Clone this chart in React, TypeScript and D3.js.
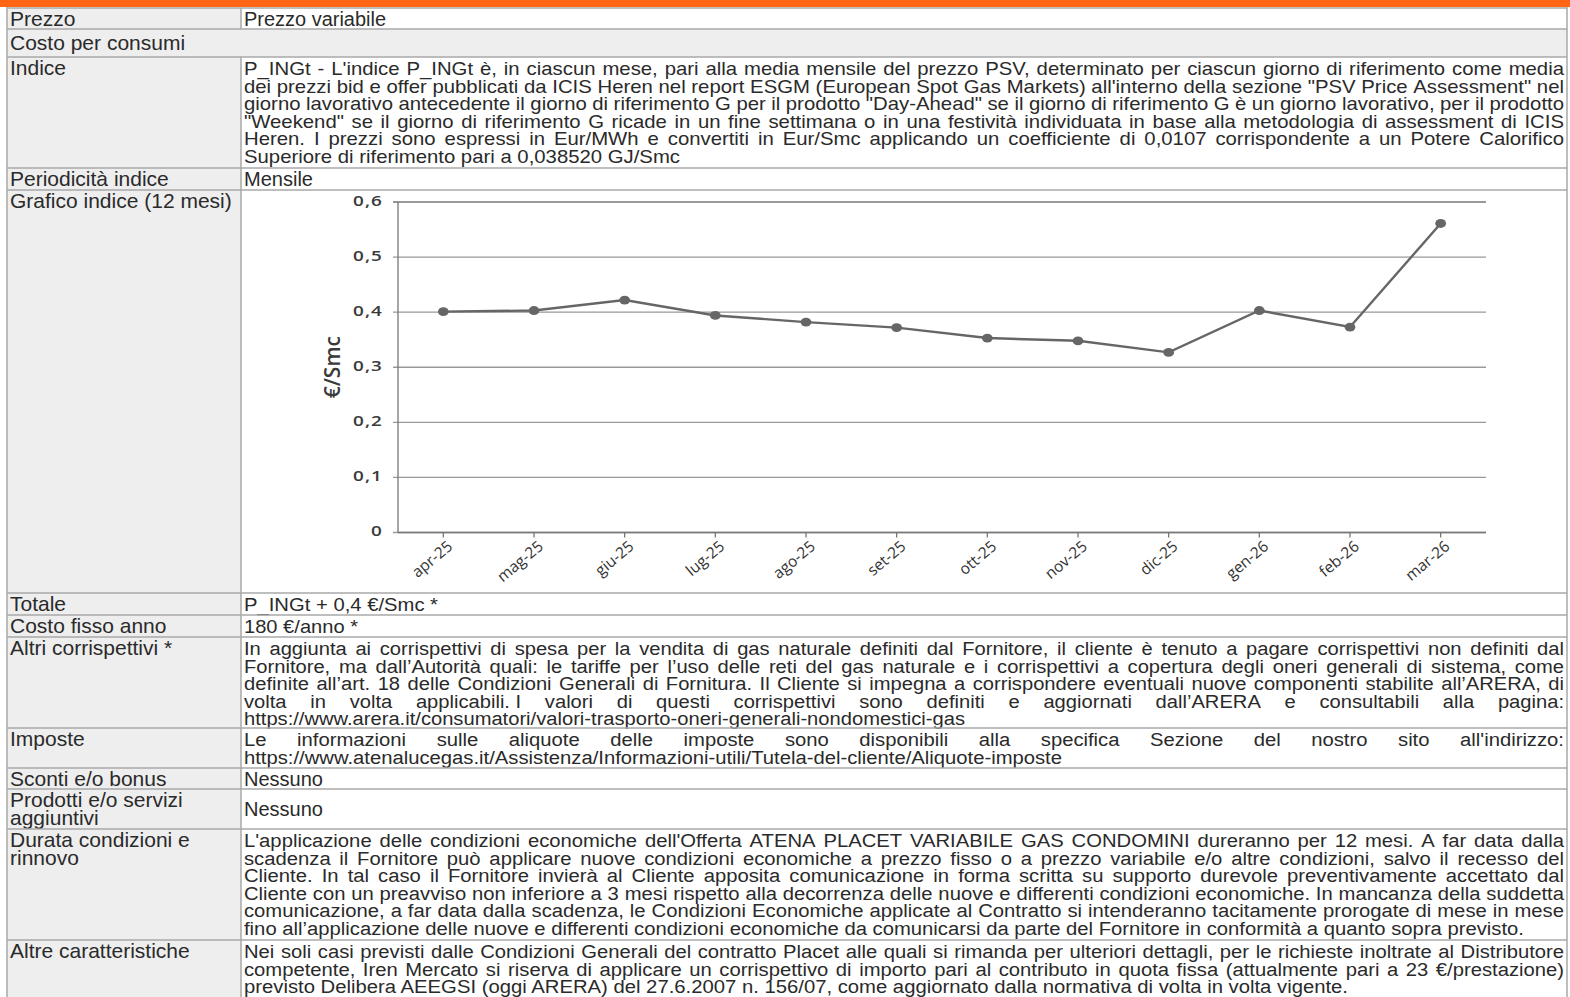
import React from 'react';
import * as d3 from 'd3';

// ---------- chart data ----------
const months = ['apr-25', 'mag-25', 'giu-25', 'lug-25', 'ago-25', 'set-25', 'ott-25', 'nov-25', 'dic-25', 'gen-26', 'feb-26', 'mar-26'];
const indexValues = [0.401, 0.403, 0.422, 0.394, 0.382, 0.372, 0.353, 0.348, 0.327, 0.403, 0.373, 0.561];
const yTicks = [0, 0.1, 0.2, 0.3, 0.4, 0.5, 0.6];
const yTickLabels = ['0', '0,1', '0,2', '0,3', '0,4', '0,5', '0,6'];
const yAxisTitle = '€/Smc';

// ---------- table text ----------
const rowLabels: string[][] = [
  ['Prezzo'],
  ['Costo per consumi'],
  ['Indice'],
  ['Periodicità indice'],
  ['Grafico indice (12 mesi)'],
  ['Totale'],
  ['Costo fisso anno'],
  ['Altri corrispettivi *'],
  ['Imposte'],
  ['Sconti e/o bonus'],
  ['Prodotti e/o servizi', 'aggiuntivi'],
  ['Durata condizioni e', 'rinnovo'],
  ['Altre caratteristiche'],
];

const indiceLines = [
  "P_INGt - L'indice P_INGt è, in ciascun mese, pari alla media mensile del prezzo PSV, determinato per ciascun giorno di riferimento come media",
  'dei prezzi bid e offer pubblicati da ICIS Heren nel report ESGM (European Spot Gas Markets) all\'interno della sezione "PSV Price Assessment" nel',
  'giorno lavorativo antecedente il giorno di riferimento G per il prodotto "Day-Ahead" se il giorno di riferimento G è un giorno lavorativo, per il prodotto',
  '"Weekend" se il giorno di riferimento G ricade in un fine settimana o in una festività individuata in base alla metodologia di assessment di ICIS',
  'Heren. I prezzi sono espressi in Eur/MWh e convertiti in Eur/Smc applicando un coefficiente di 0,0107 corrispondente a un Potere Calorifico',
  'Superiore di riferimento pari a 0,038520 GJ/Smc',
];
const altriLines = [
  'In aggiunta ai corrispettivi di spesa per la vendita di gas naturale definiti dal Fornitore, il cliente è tenuto a pagare corrispettivi non definiti dal',
  'Fornitore, ma dall’Autorità quali: le tariffe per l’uso delle reti del gas naturale e i corrispettivi a copertura degli oneri generali di sistema, come',
  'definite all’art. 18 delle Condizioni Generali di Fornitura. Il Cliente si impegna a corrispondere eventuali nuove componenti stabilite all’ARERA, di',
  'volta in volta applicabili.\u00a0I valori di questi corrispettivi sono definiti e aggiornati dall’ARERA e consultabili alla pagina:',
  'https://www.arera.it/consumatori/valori-trasporto-oneri-generali-nondomestici-gas',
];
const imposteLines = [
  "Le informazioni sulle aliquote delle imposte sono disponibili alla specifica Sezione del nostro sito all'indirizzo:",
  'https://www.atenalucegas.it/Assistenza/Informazioni-utili/Tutela-del-cliente/Aliquote-imposte',
];
const durataLines = [
  "L'applicazione delle condizioni economiche dell'Offerta ATENA PLACET VARIABILE GAS CONDOMINI dureranno per 12 mesi. A far data dalla",
  'scadenza il Fornitore può applicare nuove condizioni economiche a prezzo fisso o a prezzo variabile e/o altre condizioni, salvo il recesso del',
  'Cliente. In tal caso il Fornitore invierà al Cliente apposita comunicazione in forma scritta su supporto durevole preventivamente accettato dal',
  'Cliente con un preavviso non inferiore a 3 mesi rispetto alla decorrenza delle nuove e differenti condizioni economiche. In mancanza della suddetta',
  'comunicazione, a far data dalla scadenza, le Condizioni Economiche applicate al Contratto si intenderanno tacitamente prorogate di mese in mese',
  'fino all’applicazione delle nuove e differenti condizioni economiche da comunicarsi da parte del Fornitore in conformità a quanto sopra previsto.',
];
const altreLines = [
  'Nei soli casi previsti dalle Condizioni Generali del contratto Placet alle quali si rimanda per ulteriori dettagli, per le richieste inoltrate al Distributore',
  'competente, Iren Mercato si riserva di applicare un corrispettivo di importo pari al contributo in quota fissa (attualmente pari a 23 €/prestazione)',
  'previsto Delibera AEEGSI (oggi ARERA) del 27.6.2007 n. 156/07, come aggiornato dalla normativa di volta in volta vigente.',
];

const rowValues: (string[] | null)[] = [
  ['Prezzo variabile'],
  null,
  indiceLines,
  ['Mensile'],
  null,
  ['P_INGt + 0,4 €/Smc *'],
  ['180 €/anno *'],
  altriLines,
  imposteLines,
  ['Nessuno'],
  ['Nessuno'],
  durataLines,
  altreLines,
];

// ---------- layout (not data) ----------
const W = 1570;
const H = 997;
const rowTops = [8, 29, 57, 168, 190, 593, 615, 637, 728, 768, 789, 829, 940, 1010];
const lastLineEnds = [386, 0, 680, 313, 0, 438, 358, 965, 1062, 323, 323, 1524, 1348];
const valueFontSizes = [20, 20, 19, 20, 20, 19, 19, 18, 18, 20, 20, 18, 18];
const fullWidthRows = [1];
const chartRow = 4;
const tableLeft = 7;
const colDiv = 241;
const tableRight = 1567;
const valX = 244;
const valRight = 1564;
const labelX = 10;
const lineStep = 17.6;

let ctx: CanvasRenderingContext2D | null = null;
function measure(text: string, size: number) {
  if (!ctx) ctx = document.createElement('canvas').getContext('2d');
  if (!ctx) return text.length * size * 0.5;
  ctx.font = `${size}px "Liberation Sans", Arial, sans-serif`;
  return ctx.measureText(text).width;
}

const TEXT = '#2a2a2a';
const FONT = '"Liberation Sans", Arial, sans-serif';
const CHART_FONT = '"Open Sans", sans-serif';

function Paragraph({ lines, top, height, size, lastEnd }: { lines: string[]; top: number; height: number; size: number; lastEnd: number }) {
  const last = lines[lines.length - 1];
  const sx = (lastEnd - valX) / measure(last, size);
  const single = lines.length === 1;
  const base0 = single ? top + height / 2 + 7 : top + 18;
  const out: React.ReactNode[] = [];
  lines.forEach((line, li) => {
    const y = base0 + li * lineStep;
    if (li === lines.length - 1) {
      out.push(
        <text key={li} x={valX} y={y} fontSize={size} fontFamily={FONT} fill={TEXT} textLength={lastEnd - valX} lengthAdjust="spacingAndGlyphs">
          {line}
        </text>
      );
    } else {
      const words = line.split(' ');
      const ws = words.map((w) => measure(w, size) * sx);
      const total = ws.reduce((a, b) => a + b, 0);
      const gap = (valRight - valX - total) / (words.length - 1);
      let x = valX;
      words.forEach((w, wi) => {
        out.push(
          <text key={`${li}-${wi}`} x={x} y={y} fontSize={size} fontFamily={FONT} fill={TEXT} textLength={ws[wi]} lengthAdjust="spacingAndGlyphs">
            {w}
          </text>
        );
        x += ws[wi] + gap;
      });
    }
  });
  return <g>{out}</g>;
}

function Chart() {
  const x = d3.scaleBand<string>().domain(months).range([398, 1486]).padding(0);
  const y = d3.scaleLinear().domain([0, 0.6]).range([532.5, 202]);
  const cx = (m: string) => (x(m) as number) + x.bandwidth() / 2;
  const line = d3
    .line<number>()
    .x((_, i) => cx(months[i]))
    .y((d) => y(d));
  const [x0, x1] = x.range();
  return (
    <g>
      {yTicks.map((t, i) => (
        <g key={t}>
          <line x1={x0 - 5} x2={x1} y1={y(t)} y2={y(t)} stroke={i === yTicks.length - 1 ? '#777' : '#999'} strokeWidth={1.3} />
          <text
            transform={`translate(383,${y(t)}) scale(1.35,1)`}
            dy="0.28em"
            textAnchor="end"
            fontFamily={CHART_FONT}
            fontSize={14}
            fontWeight={600}
            letterSpacing={0.8}
            fill="#3a3a3a"
          >
            {yTickLabels[i]}
          </text>
        </g>
      ))}
      <line x1={x0} x2={x0} y1={y(0.6)} y2={y(0)} stroke="#777" strokeWidth={1.3} />
      <line x1={x0} x2={x1} y1={y(0)} y2={y(0)} stroke="#777" strokeWidth={1.3} />
      {months.map((m) => (
        <g key={m}>
          <line x1={cx(m)} x2={cx(m)} y1={y(0)} y2={y(0) + 5} stroke="#777" strokeWidth={1.3} />
          <text
            transform={`translate(${cx(m) + 3},${y(0) + 7}) rotate(-40)`}
            dy="0.72em"
            textAnchor="end"
            fontFamily={CHART_FONT}
            fontSize={15.5}
            fontWeight={500}
            fill="#333"
          >
            {m}
          </text>
        </g>
      ))}
      <text
        transform={`translate(333,${(y(0) + y(0.6)) / 2}) rotate(-90)`}
        textAnchor="middle"
        dy="0.35em"
        fontFamily={CHART_FONT}
        fontSize={21}
        fontWeight={600}
        fill="#3a3a3a"
      >
        {yAxisTitle}
      </text>
      <path d={line(indexValues) || ''} fill="none" stroke="#666" strokeWidth={2.4} />
      {indexValues.map((v, i) => (
        <ellipse key={i} cx={cx(months[i])} cy={y(v)} rx={5.4} ry={4.4} fill="#666" />
      ))}
    </g>
  );
}

export default function App() {
  const border = '#a8a8a8';
  return (
    <svg width={W} height={H} style={{ position: 'absolute', left: 0, top: 0, background: '#fff' }}>
      <rect x={0} y={0} width={W} height={H} fill="#fff" />
      <rect x={0} y={0} width={W} height={7} fill="#ff6512" />
      {rowLabels.map((lab, i) => {
        const top = rowTops[i];
        const bottom = rowTops[i + 1];
        const h = bottom - top;
        const full = fullWidthRows.includes(i);
        const vals = rowValues[i];
        const singleRow = lab.length === 1 && (!vals || vals.length === 1) && i !== chartRow;
        const labBase = singleRow ? top + h / 2 + 7 : top + 18;
        return (
          <g key={i}>
            <rect x={tableLeft} y={top} width={(full ? tableRight : colDiv) - tableLeft} height={h} fill="#eeeeee" />
            {lab.map((l, li) => (
              <text key={li} x={labelX} y={labBase + li * lineStep} fontSize={21} fontFamily={FONT} fill={TEXT}>
                {l}
              </text>
            ))}
            {vals && <Paragraph lines={vals} top={top} height={h} size={valueFontSizes[i]} lastEnd={lastLineEnds[i]} />}
            <line x1={tableLeft} x2={tableRight} y1={top} y2={top} stroke={border} strokeWidth={1.5} />
            {!full && <line x1={colDiv} x2={colDiv} y1={top} y2={Math.min(bottom, H)} stroke={border} strokeWidth={1.5} />}
          </g>
        );
      })}
      <line x1={tableLeft} x2={tableLeft} y1={7} y2={H} stroke={border} strokeWidth={1.5} />
      <line x1={tableRight} x2={tableRight} y1={7} y2={H} stroke={border} strokeWidth={1.5} />
      <Chart />
    </svg>
  );
}
